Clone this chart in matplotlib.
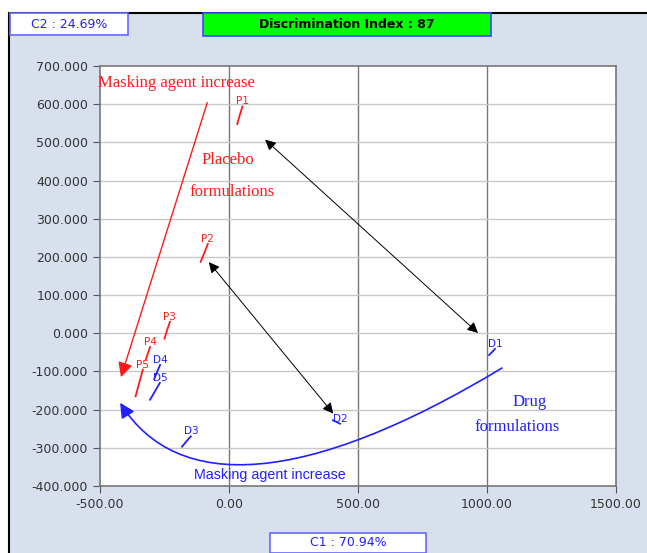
import matplotlib
matplotlib.use("Agg")
import matplotlib.pyplot as plt
from matplotlib.patches import Rectangle, FancyArrowPatch
from matplotlib.path import Path

# ---- data ----
placebo_labels = ["P1", "P2", "P3", "P4", "P5"]
placebo_x = [[32, 42, 52], [-110, -96, -82], [-250, -240, -229], [-322, -314, -306], [-362, -348, -334]]
placebo_y = [[548, 572, 594], [187, 210, 234], [-14, 8, 30], [-68, -52, -36], [-165, -130, -95]]

drug_labels = ["D1", "D2", "D3", "D4", "D5"]
drug_x = [[1008, 1020, 1031], [403, 416, 430], [-182, -165, -148], [-290, -278, -267], [-306, -287, -268]]
drug_y = [[-57, -49, -41], [-228, -232, -237], [-297, -283, -270], [-120, -100, -83], [-174, -152, -130]]

xticks = [-500, 0, 500, 1000, 1500]
yticks = [700, 600, 500, 400, 300, 200, 100, 0, -100, -200, -300, -400]

red = "#ff1a1a"
blue = "#2020ff"

fig = plt.figure(figsize=(6.47, 5.53), dpi=100)
fig.patch.set_facecolor("white")
bg = Rectangle((9/647, -0.01), 1.0, 1 - 13/553 + 0.01, transform=fig.transFigure,
               facecolor="#d8e0ee", edgecolor="black", lw=1.5, zorder=-10)
fig.add_artist(bg)

ax = fig.add_axes([100/647, 1 - 486/553, 516/647, 420/553])
ax.set_zorder(1)
ax.set_facecolor("white")
ax.set_xlim(-500, 1500)
ax.set_ylim(-400, 700)
ax.set_xticks(xticks)
ax.set_yticks(yticks)
ax.set_xticklabels([f"{v:.2f}" for v in xticks])
ax.set_yticklabels([f"{v:.3f}" for v in yticks])
ax.tick_params(axis="both", labelsize=9, colors="#555555", length=5, labelcolor="#333333")
for s in ax.spines.values():
    s.set_color("#777777")
    s.set_linewidth(1.2)
for v in xticks[1:-1]:
    ax.axvline(v, color="#777777", lw=1.0, zorder=1)
for v in yticks[1:-1]:
    ax.axhline(v, color="#c8c8c8", lw=1.0, zorder=1)

# samples
for lab, xs, ys in zip(placebo_labels, placebo_x, placebo_y):
    ax.plot(xs, ys, color=red, lw=1.3, zorder=3)
    ax.text(xs[-1], ys[-1], lab, color=red, fontsize=7.5, ha="center", va="bottom", zorder=4)
for lab, xs, ys in zip(drug_labels, drug_x, drug_y):
    ax.plot(xs, ys, color=blue, lw=1.3, zorder=3)
    ax.text(xs[-1], ys[-1], lab, color=blue, fontsize=7.5, ha="center", va="bottom", zorder=4)

# red straight arrow
ax.add_patch(FancyArrowPatch((-81, 611), (-422, -122), arrowstyle="-|>", mutation_scale=22,
                             color=red, lw=1.0, zorder=5))
# blue curved arrow
verts = [(1058, -91), (300, -400), (-200, -420), (-422, -182)]
codes = [Path.MOVETO, Path.CURVE4, Path.CURVE4, Path.CURVE4]
ax.add_patch(FancyArrowPatch(path=Path(verts, codes), arrowstyle="-|>", mutation_scale=22,
                             color=blue, lw=1.2, zorder=5))
# black double arrows
ax.add_patch(FancyArrowPatch((132, 512), (973, -4), arrowstyle="<|-|>", mutation_scale=16,
                             color="black", lw=0.7, zorder=5))
ax.add_patch(FancyArrowPatch((-85, 192), (411, -216), arrowstyle="<|-|>", mutation_scale=16,
                             color="black", lw=0.7, zorder=5))

serif = "Liberation Serif"
ax.text(-205, 655, "Masking agent increase", color=red, fontsize=12, family=serif, ha="center", va="center")
ax.text(-4, 454, "Placebo", color=red, fontsize=12, family=serif, ha="center", va="center")
ax.text(12, 370, "formulations", color=red, fontsize=12, family=serif, ha="center", va="center")
ax.text(1167, -180, "Drug", color=blue, fontsize=12, family=serif, ha="center", va="center")
ax.text(1116, -245, "formulations", color=blue, fontsize=12, family=serif, ha="center", va="center")
ax.text(159, -370, "Masking agent increase", color=blue, fontsize=10.3, family="Liberation Sans",
        ha="center", va="center")

# header / footer boxes
def box(x0, y0, x1, y1, fc, ec, text, tc, weight="normal", size=9):
    fig.add_artist(Rectangle((x0/647, 1 - y1/553), (x1 - x0)/647, (y1 - y0)/553,
                             transform=fig.transFigure, facecolor=fc, edgecolor=ec, lw=1.2, zorder=2))
    fig.text((x0 + x1)/2/647, 1 - (y0 + y1)/2/553, text, color=tc, fontsize=size, weight=weight,
             ha="center", va="center", zorder=3)

box(10, 13, 128, 35, "white", "#6666ff", "C2 : 24.69%", blue)
box(203, 13, 491, 36, "#00ff00", "#4444ff", "Discrimination Index : 87", "black", weight="bold")
box(270, 533, 426, 553, "white", "#6666ff", "C1 : 70.94%", blue)

fig.savefig("out.png", dpi=100)
